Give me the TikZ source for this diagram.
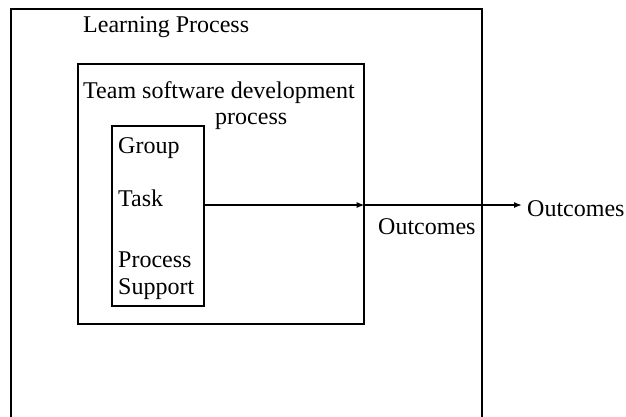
\documentclass[tikz,border=0pt]{standalone}
\usepackage{fontspec}
\setmainfont{Liberation Serif}
\usetikzlibrary{arrows.meta}
\begin{document}
\begin{tikzpicture}[x=1pt,y=-1pt,
  frame/.style={draw,line width=1.7pt},
  lbl/.style={inner sep=0pt,anchor=base west,font=\fontsize{24}{28}\selectfont},
  flow/.style={line width=1.5pt,-{Latex[length=8pt,width=6pt]}}]
\useasboundingbox (0,0) rectangle (626,416);
% outer learning-process frame (continues past the lower edge)
\draw[frame] (11,420) -- (11,9) -- (482,9) -- (482,420);
\node[lbl] (learn) at (83,32) {Learning Process};
% team development box
\node[frame,minimum width=286pt,minimum height=260pt,anchor=north west,inner sep=0pt] (team) at (77,63) {};
\node[lbl] (teamA) at (83,98) {Team software development};
\node[lbl] (teamB) at (215,124) {process};
% factor box
\node[frame,minimum width=92pt,minimum height=180pt,anchor=north west,inner sep=0pt] (factors) at (111,125) {};
\node[lbl] (group) at (118,153) {Group};
\node[lbl] (task) at (118,206) {Task};
\node[lbl] (proc) at (118,267) {Process};
\node[lbl] (supp) at (118,294) {Support};
% outcome labels
\node[lbl] (outA) at (378,234) {Outcomes};
\node[lbl] (outB) at (527,216) {Outcomes};
% flow of outcomes
\coordinate (src) at (factors.east |- 0,205);
\coordinate (mid) at (team.east |- 0,205);
\coordinate (dst) at (522,205);
\draw[flow] (src) -- (mid);
\draw[flow] (mid) -- (dst);
\end{tikzpicture}
\end{document}
